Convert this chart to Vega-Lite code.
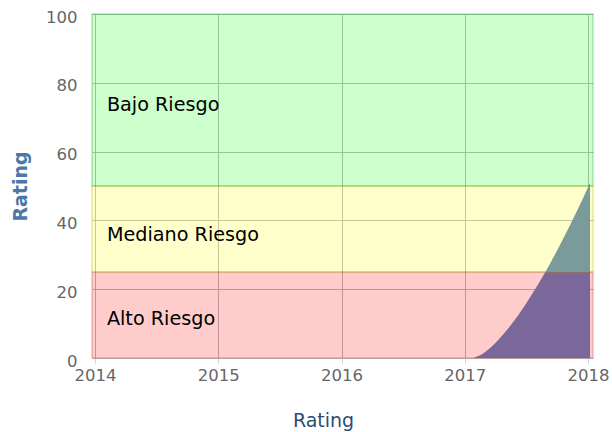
{
  "$schema": "https://vega.github.io/schema/vega-lite/v6.json",
  "width": 501,
  "height": 344,
  "autosize": {"type": "none"},
  "padding": {"left": 92, "top": 14, "right": 19, "bottom": 74},
  "background": "white",
  "config": {
    "font": "DejaVu Sans",
    "view": {"stroke": null}
  },
  "datasets": {
    "bands": [
      {"band": "Alto Riesgo", "lo": 0, "hi": 25},
      {"band": "Mediano Riesgo", "lo": 25, "hi": 50},
      {"band": "Bajo Riesgo", "lo": 50, "hi": 100}
    ],
    "labels": [
      {"label": "Bajo Riesgo", "year": 2014.097, "rating": 73.5},
      {"label": "Mediano Riesgo", "year": 2014.097, "rating": 35.8},
      {"label": "Alto Riesgo", "year": 2014.097, "rating": 11.2}
    ],
    "series": [
      {"year": 2017.07, "rating": 0},
      {"year": 2017.12, "rating": 0.7},
      {"year": 2017.2, "rating": 2.75},
      {"year": 2017.3, "rating": 6.4},
      {"year": 2017.4, "rating": 10.8},
      {"year": 2017.5, "rating": 16.0},
      {"year": 2017.6, "rating": 21.7},
      {"year": 2017.7, "rating": 28.0},
      {"year": 2017.8, "rating": 34.8},
      {"year": 2017.9, "rating": 42.0},
      {"year": 2018.016, "rating": 50.9}
    ]
  },
  "layer": [
    {
      "data": {"name": "series"},
      "mark": {"type": "area", "color": "#5a83c2", "interpolate": "monotone"},
      "encoding": {
        "x": {
          "field": "year", "type": "quantitative",
          "scale": {"domain": [2013.976, 2018.04], "nice": false, "zero": false},
          "axis": {
            "values": [2014, 2015, 2016, 2017, 2018],
            "format": "d",
            "title": "Rating",
            "titleFont": "DejaVu Sans",
            "titleFontSize": 19,
            "titleFontWeight": "normal",
            "titleColor": "#2b4c70",
            "titleX": 231,
            "titleY": 62,
            "titleBaseline": "middle",
            "titleAlign": "center",
            "titleAnchor": null,
            "labelFont": "DejaVu Sans",
            "labelFontSize": 16.5,
            "labelColor": "#666666",
            "labelPadding": 4,
            "labelFlush": false,
            "ticks": true,
            "tickColor": "#c0d6ea",
            "tickSize": 5,
            "domain": false,
            "grid": true,
            "gridColor": "#b8b8b8",
            "gridWidth": 1
          }
        },
        "y": {
          "field": "rating", "type": "quantitative",
          "scale": {"domain": [0, 100], "nice": false},
          "axis": {
            "values": [0, 20, 40, 60, 80, 100],
            "title": "Rating",
            "titleFont": "DejaVu Sans",
            "titleFontSize": 19,
            "titleFontWeight": "bold",
            "titleColor": "#4a78a8",
            "titleX": -72,
            "titleY": 172,
            "titleAngle": -90,
            "titleBaseline": "middle",
            "titleAlign": "center",
            "titleAnchor": null,
            "labelFont": "DejaVu Sans",
            "labelFontSize": 16.5,
            "labelColor": "#666666",
            "labelPadding": 15,
            "labelOffset": 3,
            "labelFlush": false,
            "ticks": false,
            "domain": false,
            "grid": true,
            "gridColor": "#b8b8b8",
            "gridWidth": 1
          }
        }
      }
    },
    {
      "data": {"name": "bands"},
      "mark": {"type": "rect", "fillOpacity": 0.2, "strokeOpacity": 0.3, "strokeWidth": 1.5},
      "encoding": {
        "y": {"field": "lo", "type": "quantitative"},
        "y2": {"field": "hi"},
        "fill": {
          "field": "band", "type": "nominal", "legend": null,
          "scale": {"domain": ["Alto Riesgo", "Mediano Riesgo", "Bajo Riesgo"], "range": ["#ff0000", "#ffff00", "#00ff00"]}
        },
        "stroke": {
          "field": "band", "type": "nominal", "legend": null,
          "scale": {"domain": ["Alto Riesgo", "Mediano Riesgo", "Bajo Riesgo"], "range": ["#c04040", "#b0b000", "#30a030"]}
        }
      }
    },
    {
      "data": {"name": "labels"},
      "mark": {"type": "text", "align": "left", "baseline": "middle", "font": "DejaVu Sans", "fontSize": 19.2, "color": "black"},
      "encoding": {
        "x": {"field": "year", "type": "quantitative"},
        "y": {"field": "rating", "type": "quantitative"},
        "text": {"field": "label", "type": "nominal"}
      }
    }
  ]
}
